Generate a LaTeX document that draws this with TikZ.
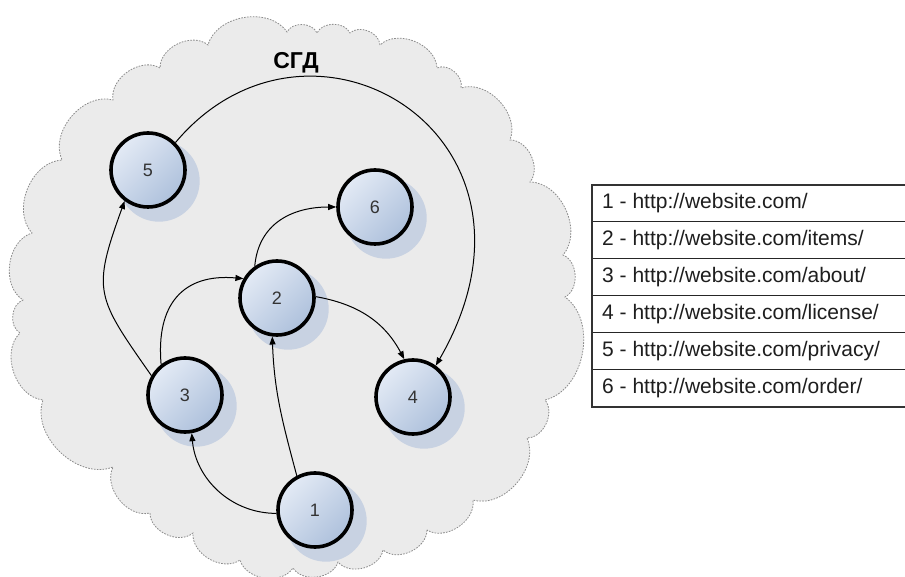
\documentclass[tikz,border=0pt]{standalone}
\usepackage{fontspec}
\setmainfont{Liberation Sans}
\usetikzlibrary{arrows.meta,shadows}
\definecolor{cloudfill}{HTML}{EBEBEB}
\definecolor{cloudline}{HTML}{8A8A8A}
\definecolor{nodelight}{HTML}{E3EAF5}
\definecolor{nodedark}{HTML}{AEC1DC}
\definecolor{shadowc}{HTML}{C8D2E2}
\definecolor{labelc}{HTML}{333333}
\definecolor{tabletext}{HTML}{1E1E1E}
\begin{document}
\begin{tikzpicture}[x=1pt,y=1pt,
  pagenode/.style={circle, draw=black, line width=3.6pt, minimum size=74pt, inner sep=0pt,
    top color=nodelight, bottom color=nodedark, shading angle=45,
    drop shadow={shadow xshift=10pt, shadow yshift=-10pt, shadow scale=1.1, fill=shadowc, opacity=1},
    font=\fontsize{18}{20}\selectfont, text=labelc},
  link/.style={line width=1pt, -{Triangle[length=8pt,width=6pt]}},
  scallop/.style={bend left=65, looseness=1.0},
  rowtext/.style={anchor=west, font=\fontsize{21}{24}\selectfont, text=tabletext, inner sep=0pt, text height=15pt, text depth=4pt},
  titletext/.style={font=\bfseries\fontsize{23}{26}\selectfont, text=black}
]
\useasboundingbox (0,0) rectangle (905,576);
\clip (0,0) rectangle (905,576);
\fill[white] (0,0) rectangle (905,576);

% cloud
\path[fill=cloudfill, draw=cloudline, dash pattern=on 1.6pt off 1.3pt, line width=0.8pt]
  (427,46) to[scallop] (383,26) to[scallop] (338,14) to[scallop] (293,8) to[scallop] (240,16)
  to[scallop] (193,43) to[scallop] (150,63) to[scallop] (113,109) to[scallop] (43,176)
  to[scallop] (20,243) to[scallop] (23,276) to[scallop] (32,343) to[scallop] (62,416)
  to[scallop] (113,476) to[scallop] (160,508) to[scallop] (208,531) to[scallop] (287,544)
  to[scallop] (317,543) to[scallop] (350,543) to[scallop] (380,531) to[scallop] (437,508)
  to[scallop] (461,488) to[scallop] (510,436) to[scallop] (530,394) to[scallop] (563,321)
  to[scallop] (565,279) to[scallop] (545,176) to[scallop] (527,138) to[scallop] (473,76)
  to[scallop] (427,46) -- cycle;

% title
\node[titletext] (title) at (296,513) {СГД};

% nodes
\node[pagenode] (n1) at (315,66) {1};
\node[pagenode] (n2) at (277,278) {2};
\node[pagenode] (n3) at (185,181) {3};
\node[pagenode] (n4) at (413,179) {4};
\node[pagenode] (n5) at (148,406) {5};
\node[pagenode] (n6) at (375,369) {6};

% links
\draw[link] (n5.45) .. controls +(50:210) and +(60:265) .. (n4.54);
\draw[link] (n1.185) to[out=180, in=-85] (n3.-80);
\draw[link] (n1.118) to[out=105, in=-88] (n2.-97);
\draw[link] (n3.128) to[out=95, in=175, looseness=1.3] (n2.150);
\draw[link] (n3.150) to[out=125, in=-110, looseness=1.4] (n5.233);
\draw[link] (n2.125) to[out=85, in=180, looseness=1.1] (n6.west);
\draw[link] (n2.2) to[out=-10, in=118] (n4.103);

% table
\draw[line width=1pt, draw=black!85] (592,354) -- (915,354)
  (592,317) -- (915,317) (592,280) -- (915,280) (592,243) -- (915,243) (592,206) -- (915,206);
\draw[line width=1.8pt, draw=black!80] (592,391) rectangle (915,169);
\node[rowtext] (r1) at (602,372.5) {1 - http://website.com/};
\node[rowtext] (r2) at (602,335.5) {2 - http://website.com/items/};
\node[rowtext] (r3) at (602,298.5) {3 - http://website.com/about/};
\node[rowtext] (r4) at (602,261.5) {4 - http://website.com/license/};
\node[rowtext] (r5) at (602,224.5) {5 - http://website.com/privacy/};
\node[rowtext] (r6) at (602,187.5) {6 - http://website.com/order/};
\end{tikzpicture}
\end{document}
